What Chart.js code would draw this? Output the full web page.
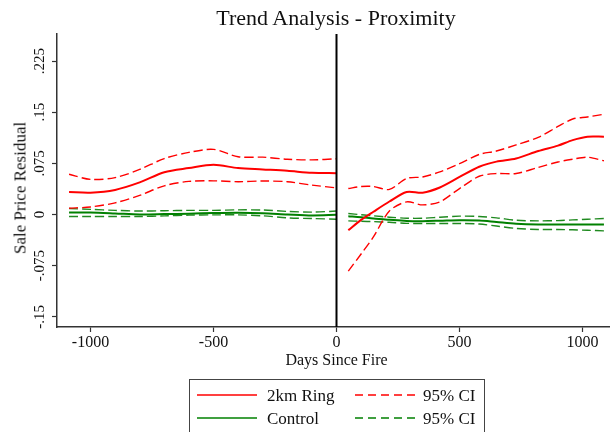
<!DOCTYPE html>
<html>
<head>
<meta charset="utf-8">
<script src="https://cdn.jsdelivr.net/npm/chart.js@4.4.1/dist/chart.umd.min.js"></script>
<style>
html,body{margin:0;padding:0;background:#fff;}
#wrap{position:relative;width:610px;height:432px;overflow:hidden;font-family:"Liberation Serif","Times New Roman",serif;color:#111;}
#cv{position:absolute;left:0;top:0;}
#title{position:absolute;left:136px;width:400px;top:7px;text-align:center;font-size:22px;line-height:22px;white-space:nowrap;}
#ytitle{position:absolute;left:19.6px;top:188px;transform:translate(-50%,-50%) rotate(-90deg);font-size:17px;line-height:17px;white-space:nowrap;}
#legend{position:absolute;left:189px;top:379px;width:294px;height:80px;border:1px solid #444;}
.li{position:absolute;font-size:17px;line-height:17px;white-space:nowrap;}
.ls{position:absolute;}
</style>
</head>
<body>
<div id="wrap">
  <canvas id="cv" width="616" height="432"></canvas>
  <div id="title">Trend Analysis - Proximity</div>
  <div id="ytitle">Sale Price Residual</div>
  <div id="legend"></div>
</div>
<script>
/* values */
const daysPre  = [-1087,-1000,-900,-800,-700,-600,-500,-400,-300,-200,-100,0];
const daysPost = [48,100,150,215,285,350,420,500,580,650,730,820,900,960,1020,1087];

const ringPre    = [0.033,0.032,0.036,0.047,0.062,0.068,0.0728,0.068,0.066,0.064,0.061,0.0606];
const ringPreHi  = [0.059,0.0514,0.054,0.066,0.082,0.091,0.0954,0.0846,0.084,0.081,0.080,0.0816];
const ringPreLo  = [0.0092,0.011,0.017,0.028,0.042,0.0485,0.0493,0.048,0.049,0.048,0.043,0.039];
const ctrlPre    = [0.003,0.0028,0.0015,0.0,0.0005,0.0012,0.002,0.0024,0.0018,0.0,-0.0015,-0.0006];
const ctrlPreHi  = [0.0088,0.0075,0.006,0.005,0.0055,0.006,0.006,0.0068,0.0065,0.0045,0.0034,0.005];
const ctrlPreLo  = [-0.003,-0.003,-0.003,-0.003,-0.002,-0.001,-0.0006,-0.0006,-0.002,-0.005,-0.006,-0.007];

const ringPost   = [-0.023,-0.008,0.004,0.019,0.033,0.032,0.0396,0.055,0.070,0.0775,0.082,0.093,0.101,0.109,0.114,0.114];
const ringPostHi = [0.038,0.041,0.041,0.0367,0.0528,0.055,0.0625,0.0745,0.088,0.093,0.102,0.113,0.129,0.140,0.143,0.147];
const ringPostLo = [-0.083,-0.058,-0.033,0.005,0.0185,0.014,0.0185,0.038,0.056,0.060,0.060,0.069,0.077,0.081,0.084,0.0787];
const ctrlPost   = [-0.0025,-0.004,-0.006,-0.0078,-0.0095,-0.0098,-0.0092,-0.0084,-0.0088,-0.011,-0.0135,-0.0147,-0.0147,-0.0147,-0.0147,-0.0147];
const ctrlPostHi = [0.0015,-0.0005,-0.002,-0.004,-0.0055,-0.0055,-0.004,-0.0025,-0.003,-0.005,-0.0085,-0.0094,-0.009,-0.008,-0.007,-0.0059];
const ctrlPostLo = [-0.0094,-0.010,-0.0105,-0.0115,-0.013,-0.0132,-0.0132,-0.0132,-0.014,-0.017,-0.0205,-0.022,-0.022,-0.0225,-0.0232,-0.024];

const fireDay = 0;
const xTicks = [-1000,-500,0,500,1000];
const yTicks = [-0.15,-0.075,0,0.075,0.15,0.225];
const legendItems = [
  {label:'2km Ring', color:'#ff0000', dash:false},
  {label:'95% CI',   color:'#ff0000', dash:true},
  {label:'Control',  color:'#008000', dash:false},
  {label:'95% CI',   color:'#008000', dash:true}
];

const RED='#ff0000', GREEN='#008000', GREEN_CI='#1f8a1f';
const FONT='"Liberation Serif","Times New Roman",serif';
const X_MIN=-1136, X_MAX=1136, Y_MIN=-0.165, Y_MAX=0.2646;

function pts(xs, ys){ return xs.map((x,i)=>({x:x, y:ys[i]})); }
function solid(xs, ys, c){ return {data:pts(xs,ys),borderColor:c,borderWidth:2,pointRadius:0,tension:0.3,fill:false}; }
function dashed(xs, ys, c){ return {data:pts(xs,ys),borderColor:c,borderWidth:1.4,borderDash:[9,4],pointRadius:0,tension:0.3,fill:false}; }
function fmt(v){ if(v===0) return '0'; let s=String(v); return s.replace(/^(-?)0\./,'$1.'); }

const datasets = [
  {data:[{x:fireDay,y:Y_MAX},{x:fireDay,y:Y_MIN}],borderColor:'#000',borderWidth:2,pointRadius:0},
  solid(daysPre, ringPre, RED), solid(daysPost, ringPost, RED),
  dashed(daysPre, ringPreHi, RED), dashed(daysPre, ringPreLo, RED),
  dashed(daysPost, ringPostHi, RED), dashed(daysPost, ringPostLo, RED),
  solid(daysPre, ctrlPre, GREEN), solid(daysPost, ctrlPost, GREEN),
  dashed(daysPre, ctrlPreHi, GREEN_CI), dashed(daysPre, ctrlPreLo, GREEN_CI),
  dashed(daysPost, ctrlPostHi, GREEN_CI), dashed(daysPost, ctrlPostLo, GREEN_CI)
];

new Chart(document.getElementById('cv'), {
  type:'line',
  data:{datasets},
  options:{
    responsive:false, animation:false, maintainAspectRatio:false,
    layout:{padding:{top:34,bottom:60,left:0,right:0}},
    plugins:{legend:{display:false},tooltip:{enabled:false},title:{display:false}},
    scales:{
      x:{type:'linear',min:X_MIN,max:X_MAX,
        afterBuildTicks:s=>{ s.ticks=xTicks.map(v=>({value:v})); },
        afterFit:s=>{ s.height=45; },
        border:{color:'#333',width:1.5},
        grid:{drawOnChartArea:false,tickLength:5,color:'#333',tickWidth:1.2},
        ticks:{padding:1,maxRotation:0,font:{family:FONT,size:16},color:'#111',callback:v=>String(v)},
        title:{display:true,text:'Days Since Fire',font:{family:FONT,size:16},color:'#111',padding:{top:0,bottom:2}}
      },
      y:{min:Y_MIN,max:Y_MAX,
        afterBuildTicks:s=>{ s.ticks=yTicks.map(v=>({value:v})); },
        afterFit:s=>{ s.width=57; },
        border:{color:'#333',width:1.5},
        grid:{drawOnChartArea:false,tickLength:5,color:'#333',tickWidth:1.2},
        ticks:{minRotation:90,maxRotation:90,crossAlign:'center',padding:-3.5,font:{family:FONT,size:15},color:'#111',callback:v=>fmt(v)}
      }
    }
  }
});

/* legend: two rows, two columns */
const lg=document.getElementById('legend');
const rowsY=[15.3,38.3], textX=[77,233], lineX=[7,165];
legendItems.forEach((it,i)=>{
  const r=Math.floor(i/2), c=i%2;
  const s=document.createElementNS('http://www.w3.org/2000/svg','svg');
  s.setAttribute('width','60'); s.setAttribute('height','4'); s.setAttribute('class','ls');
  s.style.left=lineX[c]+'px'; s.style.top=(rowsY[r]-2)+'px';
  const l=document.createElementNS('http://www.w3.org/2000/svg','line');
  l.setAttribute('x1','0'); l.setAttribute('x2','60'); l.setAttribute('y1','2'); l.setAttribute('y2','2');
  l.setAttribute('stroke',it.color); l.setAttribute('stroke-width','1.6');
  if(it.dash) l.setAttribute('stroke-dasharray','8 5');
  s.appendChild(l); lg.appendChild(s);
  const t=document.createElement('div'); t.className='li'; t.textContent=it.label;
  t.style.left=textX[c]+'px'; t.style.top=(rowsY[r]-8.5)+'px';
  lg.appendChild(t);
});
</script>
</body>
</html>
